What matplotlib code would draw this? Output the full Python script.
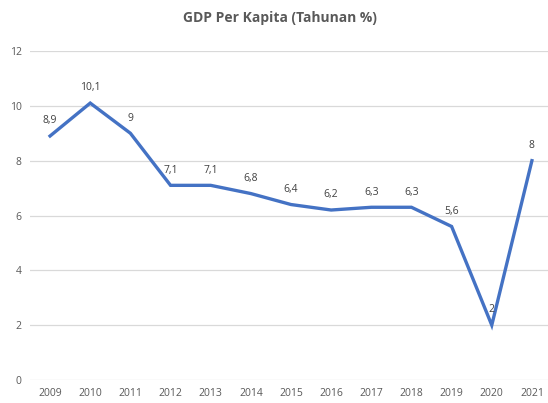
import matplotlib as mpl
mpl.use('Agg')
import matplotlib.pyplot as plt

years = ['2009', '2010', '2011', '2012', '2013', '2014', '2015',
         '2016', '2017', '2018', '2019', '2020', '2021']
growth = [8.9, 10.1, 9, 7.1, 7.1, 6.8, 6.4, 6.2, 6.3, 6.3, 5.6, 2, 8]
labels = ['8,9', '10,1', '9', '7,1', '7,1', '6,8', '6,4',
          '6,2', '6,3', '6,3', '5,6', '2', '8']

plt.rcParams['font.family'] = ['Open Sans', 'DejaVu Sans']

fig = plt.figure(figsize=(5.48, 4.03), dpi=100)
ax = fig.add_axes([30 / 548, 23 / 403, 522 / 548, 329 / 403])

x = list(range(len(years)))
ax.plot(x, growth, color='#4472C4', lw=2.4, solid_joinstyle='miter')

for xi, yi, lab in zip(x, growth, labels):
    ax.annotate(lab, (xi, yi), xytext=(0, 7), textcoords='offset points',
                ha='center', va='bottom', fontsize=7.5, color='#404040')

ax.set_xlim(-0.5, len(years) - 0.5)
ax.set_ylim(0, 12)
ax.set_yticks(range(0, 13, 2))
ax.set_xticks(x)
ax.set_xticklabels(years)
ax.grid(axis='y', color='#d9d9d9', lw=0.9)
ax.set_axisbelow(True)
for s in ax.spines.values():
    s.set_visible(False)
ax.tick_params(length=0, labelsize=7.5, labelcolor='#595959', pad=6)

fig.text(0.51, 0.955, 'GDP Per Kapita (Tahunan %)', ha='center', va='center',
         fontsize=10, fontweight='bold', color='#595959')

fig.savefig('out.png', dpi=100)
